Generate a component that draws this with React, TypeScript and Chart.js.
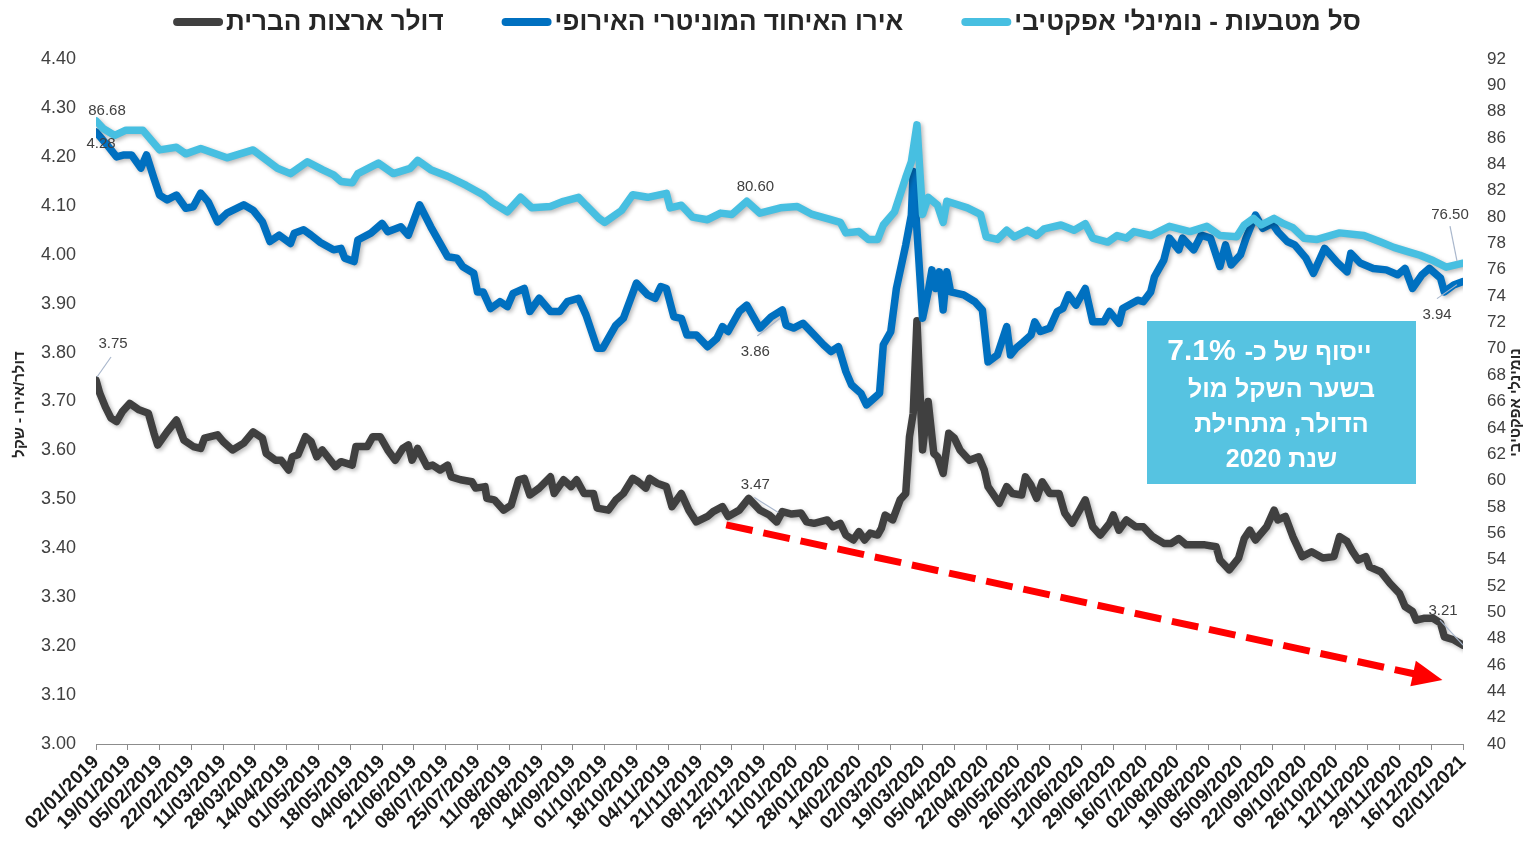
import React, { useEffect, useRef } from "react";
import { Chart, registerables } from "chart.js";

Chart.register(...registerables);

// ---------- tick labels ----------
const xTickLabels = [
  "02/01/2019", "19/01/2019", "05/02/2019", "22/02/2019", "11/03/2019", "28/03/2019",
  "14/04/2019", "01/05/2019", "18/05/2019", "04/06/2019", "21/06/2019", "08/07/2019",
  "25/07/2019", "11/08/2019", "28/08/2019", "14/09/2019", "01/10/2019", "18/10/2019",
  "04/11/2019", "21/11/2019", "08/12/2019", "25/12/2019", "11/01/2020", "28/01/2020",
  "14/02/2020", "02/03/2020", "19/03/2020", "05/04/2020", "22/04/2020", "09/05/2020",
  "26/05/2020", "12/06/2020", "29/06/2020", "16/07/2020", "02/08/2020", "19/08/2020",
  "05/09/2020", "22/09/2020", "09/10/2020", "26/10/2020", "12/11/2020", "29/11/2020",
  "16/12/2020", "02/01/2021",
];
const yLeftTicks = [3.0, 3.1, 3.2, 3.3, 3.4, 3.5, 3.6, 3.7, 3.8, 3.9, 4.0, 4.1, 4.2, 4.3, 4.4];
const yRightTicks = [40, 42, 44, 46, 48, 50, 52, 54, 56, 58, 60, 62, 64, 66, 68, 70, 72, 74, 76, 78, 80, 82, 84, 86, 88, 90, 92];

// ---------- series (x = days since 02/01/2019) ----------
const usdDays = [
  0, 2, 5, 8, 11, 14, 18, 23, 28, 31,
  33, 38, 43, 47, 52, 56, 58, 65, 68, 73,
  79, 84, 89, 91, 96, 99, 103, 105, 108, 112,
  115, 118, 121, 123, 128, 131, 137, 139, 145, 148,
  152, 156, 160, 164, 167, 169, 172, 177, 180, 184,
  188, 190, 195, 201, 203, 208, 209, 213, 218, 222,
  226, 229, 232, 237, 243, 245, 250, 254, 257, 261,
  266, 268, 274, 278, 282, 287, 290, 294, 296, 300,
  305, 308, 313, 317, 321, 327, 330, 335, 338, 344,
  349, 355, 360, 364, 367, 372, 377, 380, 384, 391,
  394, 398, 401, 405, 408, 411, 414, 418, 420, 422,
  426, 430, 433, 435, 437, 439, 442, 445, 448, 450,
  453, 456, 459, 462, 467, 472, 475, 477, 480, 483,
  487, 490, 495, 497, 500, 503, 506, 510, 515, 518,
  522, 526, 529, 533, 537, 542, 544, 547, 551, 556,
  560, 565, 571, 575, 579, 583, 588, 593, 599, 601,
  606, 611, 614, 617, 620, 626, 630, 632, 636, 640,
  645, 650, 656, 662, 665, 669, 672, 675, 679, 681,
  687, 692, 697, 700, 704, 706, 710, 715, 719, 721,
  726, 731,
];
const usdValues = [
  3.744, 3.717, 3.689, 3.666, 3.659, 3.679, 3.696, 3.683, 3.676, 3.635,
  3.611, 3.638, 3.662, 3.621, 3.608, 3.604, 3.625, 3.632, 3.618, 3.601,
  3.615, 3.638, 3.625, 3.594, 3.580, 3.580, 3.560, 3.587, 3.591, 3.628,
  3.618, 3.587, 3.601, 3.591, 3.567, 3.577, 3.570, 3.608, 3.608, 3.628,
  3.628, 3.601, 3.580, 3.604, 3.611, 3.580, 3.604, 3.567, 3.570, 3.560,
  3.570, 3.546, 3.540, 3.536, 3.523, 3.526, 3.502, 3.499, 3.478, 3.488,
  3.540, 3.543, 3.509, 3.523, 3.546, 3.512, 3.540, 3.526, 3.540, 3.512,
  3.512, 3.482, 3.478, 3.499, 3.512, 3.543, 3.536, 3.523, 3.543, 3.533,
  3.526, 3.485, 3.512, 3.478, 3.454, 3.465, 3.475, 3.485, 3.465, 3.478,
  3.502, 3.478, 3.468, 3.454, 3.475, 3.470, 3.472, 3.454, 3.451, 3.458,
  3.444, 3.451, 3.427, 3.417, 3.434, 3.417, 3.431, 3.427, 3.441, 3.468,
  3.458, 3.499, 3.512, 3.628, 3.676, 3.865, 3.601, 3.700, 3.594, 3.587,
  3.553, 3.635, 3.625, 3.601, 3.580, 3.587, 3.560, 3.526, 3.509, 3.492,
  3.526, 3.512, 3.509, 3.546, 3.529, 3.502, 3.536, 3.512, 3.512, 3.472,
  3.451, 3.478, 3.499, 3.444, 3.427, 3.451, 3.468, 3.437, 3.458, 3.444,
  3.444, 3.424, 3.410, 3.410, 3.420, 3.407, 3.407, 3.407, 3.403, 3.376,
  3.356, 3.380, 3.420, 3.437, 3.417, 3.444, 3.478, 3.458, 3.465, 3.424,
  3.383, 3.393, 3.380, 3.383, 3.424, 3.414, 3.393, 3.376, 3.383, 3.362,
  3.352, 3.328, 3.308, 3.281, 3.271, 3.253, 3.257, 3.257, 3.247, 3.219,
  3.213, 3.202,
];

const euroDays = [
  0, 6, 11, 15, 19, 24, 27, 31, 34, 38,
  43, 48, 52, 56, 60, 65, 70, 79, 84, 89,
  93, 98, 104, 106, 111, 115, 120, 127, 131, 133,
  138, 140, 147, 153, 156, 163, 167, 173, 179, 184,
  188, 193, 196, 202, 204, 207, 211, 216, 220, 223,
  229, 232, 237, 243, 248, 252, 258, 262, 268, 271,
  275, 278, 282, 286, 289, 295, 299, 302, 305, 309,
  313, 316, 321, 327, 332, 335, 338, 344, 348, 352,
  355, 361, 367, 369, 373, 378, 384, 389, 393, 397,
  401, 404, 409, 412, 417, 419, 421, 425, 428, 433,
  436, 437, 442, 445, 447, 449, 451, 453, 455, 457,
  464, 470, 474, 477, 482, 487, 489, 492, 496, 500,
  502, 505, 510, 514, 517, 520, 524, 529, 533, 539,
  542, 547, 549, 557, 560, 564, 566, 571, 574, 579,
  581, 587, 591, 596, 601, 604, 607, 612, 615, 620,
  624, 629, 632, 637, 641, 647, 651, 657, 664, 669,
  671, 676, 683, 690, 696, 700, 704, 709, 713, 719,
  721, 726, 731,
];
const euroValues = [
  4.251, 4.224, 4.200, 4.204, 4.204, 4.177, 4.204, 4.156, 4.122, 4.112,
  4.122, 4.095, 4.098, 4.126, 4.108, 4.067, 4.085, 4.102, 4.091, 4.067,
  4.027, 4.040, 4.023, 4.044, 4.051, 4.040, 4.025, 4.010, 4.013, 3.993,
  3.986, 4.030, 4.044, 4.064, 4.047, 4.057, 4.040, 4.102, 4.057, 4.023,
  3.996, 3.993, 3.976, 3.962, 3.924, 3.924, 3.890, 3.904, 3.894, 3.921,
  3.931, 3.884, 3.911, 3.884, 3.884, 3.904, 3.911, 3.877, 3.809, 3.809,
  3.836, 3.856, 3.870, 3.911, 3.942, 3.918, 3.911, 3.935, 3.931, 3.873,
  3.870, 3.836, 3.836, 3.812, 3.829, 3.853, 3.843, 3.884, 3.897, 3.870,
  3.850, 3.873, 3.887, 3.856, 3.850, 3.860, 3.836, 3.816, 3.802, 3.812,
  3.761, 3.734, 3.717, 3.693, 3.710, 3.717, 3.816, 3.843, 3.931, 4.020,
  4.081, 4.170, 3.870, 3.924, 3.969, 3.931, 3.965, 3.887, 3.965, 3.924,
  3.918, 3.904, 3.887, 3.781, 3.795, 3.853, 3.795, 3.809, 3.822, 3.836,
  3.863, 3.843, 3.850, 3.884, 3.890, 3.918, 3.897, 3.931, 3.863, 3.863,
  3.884, 3.860, 3.890, 3.907, 3.904, 3.924, 3.955, 3.989, 4.034, 4.010,
  4.034, 4.010, 4.040, 4.034, 3.976, 4.020, 3.979, 4.000, 4.034, 4.081,
  4.054, 4.064, 4.047, 4.027, 4.020, 3.993, 3.962, 4.013, 3.983, 3.965,
  4.003, 3.983, 3.972, 3.969, 3.959, 3.972, 3.931, 3.959, 3.972, 3.952,
  3.924, 3.938, 3.945,
];

const basketDays = [
  0, 4, 10, 16, 25, 34, 43, 48, 56, 70,
  84, 97, 104, 113, 121, 127, 131, 137, 140, 151,
  159, 168, 172, 179, 188, 198, 207, 212, 220, 227,
  233, 243, 250, 258, 262, 269, 272, 281, 287, 295,
  305, 307, 313, 319, 327, 334, 340, 348, 355, 366,
  375, 383, 393, 398, 401, 408, 413, 418, 421, 427,
  433, 436, 439, 442, 445, 450, 453, 455, 466, 473,
  476, 482, 487, 491, 498, 503, 507, 516, 523, 529,
  533, 541, 546, 551, 555, 564, 574, 585, 594, 601,
  610, 614, 619, 623, 630, 635, 640, 646, 653, 665,
  678, 687, 694, 701, 708, 715, 722, 731,
];
const basketValues = [
  87.3, 86.7, 86.2, 86.6, 86.6, 85.1, 85.3, 84.8, 85.2, 84.5,
  85.1, 83.7, 83.3, 84.2, 83.6, 83.2, 82.7, 82.6, 83.3, 84.1,
  83.3, 83.7, 84.3, 83.6, 83.1, 82.4, 81.7, 81.1, 80.4, 81.5,
  80.7, 80.8, 81.2, 81.5, 80.9, 79.9, 79.6, 80.5, 81.7, 81.5,
  81.8, 80.7, 80.9, 80.0, 79.8, 80.3, 80.2, 81.2, 80.3, 80.7,
  80.8, 80.2, 79.8, 79.6, 78.8, 78.9, 78.3, 78.3, 79.4, 80.4,
  83.0, 84.2, 87.0, 80.2, 81.5, 80.9, 79.6, 81.2, 80.7, 80.2,
  78.5, 78.3, 79.0, 78.5, 79.0, 78.6, 79.1, 79.4, 79.0, 79.5,
  78.4, 78.1, 78.6, 78.4, 78.9, 78.6, 79.3, 78.9, 79.3, 78.6,
  78.5, 79.4, 79.9, 79.4, 79.9, 79.5, 79.2, 78.4, 78.3, 78.8,
  78.6, 78.1, 77.7, 77.4, 77.1, 76.7, 76.2, 76.5,
];

// red dashed trend arrow (start, tip) in data units
const trendArrowDays = [337, 720];
const trendArrowValues = [3.448, 3.131];

// ---------- texts ----------
const seriesLabels = [
  "דולר ארצות הברית",
  "אירו האיחוד המוניטרי האירופי",
  "סל מטבעות - נומינלי אפקטיבי",
];
const seriesColors = ["#404040", "#0070C0", "#47BFE1"];
const leftAxisTitle = "דולר/אירו - שקל";
const rightAxisTitle = "נומינלי אפקטיבי";
const calloutLead = "ייסוף של כ-";
const calloutPct = "7.1%";
const calloutLines = ["בשער השקל מול", "הדולר, מתחילת", "שנת 2020"];

// data labels: series index, anchor day, text, offset of text from point, leader line
const pointLabels = [
  { ds: 2, day: 0, text: "86.68", dx: 11, dy: -10, leader: null },
  { ds: 1, day: 0, text: "4.28", dx: 5, dy: 12, leader: null },
  { ds: 0, day: 0, text: "3.75", dx: 17, dy: -36, leader: [1, -3, 15, -23] },
  { ds: 2, day: 366, text: "80.60", dx: -25, dy: -21, leader: null },
  { ds: 1, day: 367, text: "3.86", dx: -27, dy: 42, leader: [-25, 26, -2, 8] },
  { ds: 0, day: 367, text: "3.47", dx: -27, dy: -27, leader: [-28, -14, -4, 1] },
  { ds: 2, day: 731, text: "76.50", dx: -13, dy: -48, leader: [-13, -37, -6, -2] },
  { ds: 1, day: 731, text: "3.94", dx: -26, dy: 33, leader: [-26, 17, -6, 3] },
  { ds: 0, day: 731, text: "3.21", dx: -20, dy: -34, leader: [-23, -25, 0, 0] },
];

const FONT = "'Liberation Sans', 'DejaVu Sans', Arial, sans-serif";

const parseDay = (s: string) => {
  const [d, m, y] = s.split("/").map(Number);
  return Date.UTC(y, m - 1, d);
};
const baseDate = parseDay(xTickLabels[0]);
const xTickDays = xTickLabels.map((s) => Math.round((parseDay(s) - baseDate) / 86400000));
const lastDay = xTickDays[xTickDays.length - 1];

const toPoints = (days: number[], vals: number[]) => days.map((d, i) => ({ x: d, y: vals[i] }));

const shadowPlugin = {
  id: "lineShadow",
  beforeDatasetDraw(chart: any) {
    const ctx = chart.ctx;
    ctx.save();
    ctx.shadowColor = "rgba(0,0,0,0.28)";
    ctx.shadowBlur = 4;
    ctx.shadowOffsetX = 2;
    ctx.shadowOffsetY = 2;
  },
  afterDatasetDraw(chart: any) {
    chart.ctx.restore();
  },
};

const overlayPlugin = {
  id: "overlay",
  afterDatasetsDraw(chart: any) {
    const ctx = chart.ctx as CanvasRenderingContext2D;
    const xs = chart.scales.x;
    const ys = chart.scales.y;

    // trend arrow
    const x0 = xs.getPixelForValue(trendArrowDays[0]);
    const y0 = ys.getPixelForValue(trendArrowValues[0]);
    const x1 = xs.getPixelForValue(trendArrowDays[1]);
    const y1 = ys.getPixelForValue(trendArrowValues[1]);
    const ang = Math.atan2(y1 - y0, x1 - x0);
    const headLen = 30;
    const headW = 13;
    const bx = x1 - headLen * Math.cos(ang);
    const by = y1 - headLen * Math.sin(ang);
    ctx.save();
    ctx.strokeStyle = "#FF0000";
    ctx.fillStyle = "#FF0000";
    ctx.lineWidth = 7;
    ctx.setLineDash([27, 11]);
    ctx.beginPath();
    ctx.moveTo(x0, y0);
    ctx.lineTo(bx + 2 * Math.cos(ang), by + 2 * Math.sin(ang));
    ctx.stroke();
    ctx.setLineDash([]);
    ctx.beginPath();
    ctx.moveTo(x1, y1);
    ctx.lineTo(bx + headW * Math.sin(ang), by - headW * Math.cos(ang));
    ctx.lineTo(bx - headW * Math.sin(ang), by + headW * Math.cos(ang));
    ctx.closePath();
    ctx.fill();
    ctx.restore();

    // data labels
    ctx.save();
    ctx.font = `15px ${FONT}`;
    ctx.fillStyle = "#404040";
    ctx.textAlign = "center";
    ctx.textBaseline = "middle";
    pointLabels.forEach((lb) => {
      const meta = chart.getDatasetMeta(lb.ds);
      const data = chart.data.datasets[lb.ds].data as { x: number; y: number }[];
      let best = 0;
      data.forEach((p, i) => {
        if (Math.abs(p.x - lb.day) < Math.abs(data[best].x - lb.day)) best = i;
      });
      const el = meta.data[best];
      if (!el) return;
      const px = el.x;
      const py = el.y;
      if (lb.leader) {
        ctx.strokeStyle = "#A9B7CC";
        ctx.lineWidth = 1.2;
        ctx.beginPath();
        ctx.moveTo(px + lb.leader[0], py + lb.leader[1]);
        ctx.lineTo(px + lb.leader[2], py + lb.leader[3]);
        ctx.stroke();
      }
      ctx.fillText(lb.text, px + lb.dx, py + lb.dy);
    });
    ctx.restore();
  },
  afterDraw(chart: any) {
    const ctx = chart.ctx as CanvasRenderingContext2D;
    const area = chart.chartArea;

    // legend
    ctx.save();
    ctx.font = `bold 26px ${FONT}`;
    const symW = 50;
    const symGap = 3;
    const itemGap = 58;
    const widths = seriesLabels.map((t) => ctx.measureText(t).width);
    const total = widths.reduce((a, w) => a + symW + symGap + w, 0) + itemGap * (seriesLabels.length - 1);
    let x = 767 - total / 2;
    const ly = 22;
    seriesLabels.forEach((t, i) => {
      ctx.strokeStyle = seriesColors[i];
      ctx.lineWidth = 8;
      ctx.lineCap = "round";
      ctx.beginPath();
      ctx.moveTo(x + 4, ly);
      ctx.lineTo(x + symW - 4, ly);
      ctx.stroke();
      ctx.fillStyle = "#262626";
      ctx.textAlign = "left";
      ctx.textBaseline = "middle";
      ctx.fillText(t, x + symW + symGap, ly + 1);
      x += symW + symGap + widths[i] + itemGap;
    });
    ctx.restore();

    // axis titles (both rotated to read bottom-to-top)
    const midY = (area.top + area.bottom) / 2;
    const drawVTitle = (text: string, cxPos: number, cyPos: number) => {
      ctx.save();
      ctx.font = `bold 15px ${FONT}`;
      ctx.fillStyle = "#262626";
      ctx.textAlign = "center";
      ctx.textBaseline = "middle";
      ctx.translate(cxPos, cyPos);
      ctx.rotate(-Math.PI / 2);
      ctx.fillText(text, 0, 0);
      ctx.restore();
    };
    drawVTitle(leftAxisTitle, 20, midY + 3);
    drawVTitle(rightAxisTitle, area.right + 53, midY + 1);

    // callout box
    const bxl = 1147, bxt = 321, bw = 269, bh = 163;
    const cx = bxl + bw / 2;
    ctx.save();
    ctx.fillStyle = "#56C3E1";
    ctx.fillRect(bxl, bxt, bw, bh);
    ctx.fillStyle = "#FFFFFF";
    ctx.textBaseline = "middle";
    ctx.font = `bold 25px ${FONT}`;
    (ctx as any).direction = "rtl";
    const wA = ctx.measureText(calloutLead).width;
    ctx.font = `bold 30px ${FONT}`;
    (ctx as any).direction = "ltr";
    const wB = ctx.measureText(calloutPct).width;
    const sp = 9;
    const left = cx - 12 - (wA + sp + wB) / 2;
    ctx.textAlign = "left";
    ctx.fillText(calloutPct, left, 352);
    ctx.font = `bold 25px ${FONT}`;
    (ctx as any).direction = "rtl";
    ctx.textAlign = "right";
    ctx.fillText(calloutLead, left + wA + sp + wB, 353);
    ctx.textAlign = "center";
    const ysLines = [390, 425, 460];
    calloutLines.forEach((t, i) => ctx.fillText(t, cx, ysLines[i]));
    ctx.restore();
  },
};

export default function App() {
  const canvasRef = useRef<HTMLCanvasElement>(null);

  useEffect(() => {
    document.body.style.margin = "0";
    document.body.style.overflow = "hidden";
    const canvas = canvasRef.current;
    if (!canvas) return;
    const tickLabelFor = (v: number) => {
      const i = xTickDays.indexOf(Math.round(v));
      return i >= 0 ? xTickLabels[i] : "";
    };
    const chart = new Chart(canvas, {
      type: "line",
      data: {
        datasets: [
          {
            label: seriesLabels[0],
            data: toPoints(usdDays, usdValues),
            borderColor: seriesColors[0],
            backgroundColor: seriesColors[0],
            yAxisID: "y",
            order: 3,
          },
          {
            label: seriesLabels[1],
            data: toPoints(euroDays, euroValues),
            borderColor: seriesColors[1],
            backgroundColor: seriesColors[1],
            yAxisID: "y",
            order: 2,
          },
          {
            label: seriesLabels[2],
            data: toPoints(basketDays, basketValues),
            borderColor: seriesColors[2],
            backgroundColor: seriesColors[2],
            yAxisID: "y1",
            order: 1,
          },
        ],
      },
      options: {
        animation: false,
        responsive: true,
        maintainAspectRatio: false,
        layout: { padding: { top: 59, left: 0, right: 0, bottom: 0 } },
        elements: {
          line: { borderWidth: 7.5, tension: 0, borderJoinStyle: "round", borderCapStyle: "round", fill: false },
          point: { radius: 0, hoverRadius: 0 },
        },
        plugins: {
          legend: { display: false },
          tooltip: { enabled: false },
        },
        scales: {
          x: {
            type: "linear",
            min: 0,
            max: lastDay,
            afterBuildTicks: (s: any) => {
              s.ticks = xTickDays.map((v) => ({ value: v }));
            },
            afterFit: (s: any) => {
              s.height = 102;
            },
            ticks: {
              autoSkip: false,
              maxRotation: 45,
              minRotation: 45,
              padding: 1,
              color: "#1a1a1a",
              font: { family: FONT, size: 19, weight: "bold" },
              callback: (v: any) => tickLabelFor(Number(v)),
            },
            grid: { drawOnChartArea: false, drawTicks: true, tickLength: 6, color: "#8c8c8c" },
            border: { color: "#8c8c8c" },
          },
          y: {
            type: "linear",
            position: "left",
            min: 3.0,
            max: 4.4,
            afterBuildTicks: (s: any) => {
              s.ticks = yLeftTicks.map((v) => ({ value: v }));
            },
            afterFit: (s: any) => {
              s.width = 96;
            },
            ticks: {
              padding: 20,
              color: "#404040",
              font: { family: FONT, size: 18 },
              callback: (v: any) => Number(v).toFixed(2),
            },
            grid: { display: false, drawTicks: false },
            border: { display: false },
          },
          y1: {
            type: "linear",
            position: "right",
            min: 40,
            max: 92,
            afterBuildTicks: (s: any) => {
              s.ticks = yRightTicks.map((v) => ({ value: v }));
            },
            afterFit: (s: any) => {
              s.width = 65;
            },
            ticks: {
              padding: 24,
              color: "#404040",
              font: { family: FONT, size: 17 },
              callback: (v: any) => String(v),
            },
            grid: { display: false, drawTicks: false },
            border: { display: false },
          },
        },
      } as any,
      plugins: [shadowPlugin, overlayPlugin],
    });
    return () => chart.destroy();
  }, []);

  return (
    <div style={{ width: 1528, height: 846, position: "relative" }}>
      <canvas ref={canvasRef} />
    </div>
  );
}
